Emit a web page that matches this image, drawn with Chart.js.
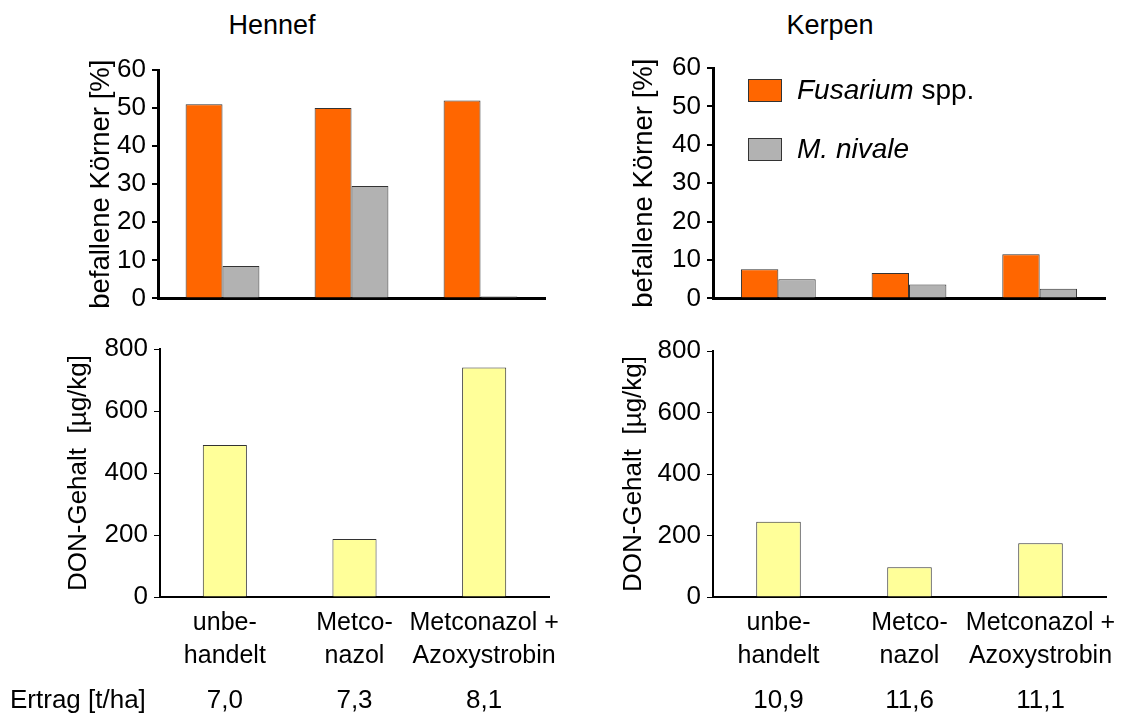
<!DOCTYPE html>
<html>
<head>
<meta charset="utf-8">
<script src="https://cdn.jsdelivr.net/npm/chart.js"></script>
<style>
  body { margin: 0; background: #fff; width: 1127px; height: 713px; position: relative; overflow: hidden; font-family: "Liberation Sans", Arial, sans-serif; }
  .box { position: absolute; }
  .site { position: absolute; font-size: 27px; color: #000; transform: translateX(-50%); white-space: nowrap; }
</style>
</head>
<body>
<div class="site" style="left:272px; top:10px;">Hennef</div>
<div class="site" style="left:830px; top:10px;">Kerpen</div>

<div class="box" style="left:60px; top:40px; width:500px; height:280px;"><canvas id="befallHennef"></canvas></div>
<div class="box" style="left:600px; top:40px; width:520px; height:280px;"><canvas id="befallKerpen"></canvas></div>
<div class="box" style="left:0px; top:325px; width:570px; height:388px;"><canvas id="donHennef"></canvas></div>
<div class="box" style="left:580px; top:325px; width:547px; height:388px;"><canvas id="donKerpen"></canvas></div>

<script>
// Data
const categories = [['unbe-', 'handelt'], ['Metco-', 'nazol'], ['Metconazol +', 'Azoxystrobin']];
const fusariumHennef = [51, 50, 52];
const nivaleHennef = [8.5, 29.5, 0.5];
const fusariumKerpen = [7.6, 6.6, 11.5];
const nivaleKerpen = [5.0, 3.6, 2.5];
const donHennef = [490, 187, 740];
const donKerpen = [245, 97, 175];
const ertragHennef = ['7,0', '7,3', '8,1'];
const ertragKerpen = ['10,9', '11,6', '11,1'];
const befallMax = 60, befallStep = 10;
const donMax = 800, donStep = 200;

const FONT = '"Liberation Sans", Arial, sans-serif';
const ORANGE = '#FF6600';
const GREY = '#B2B2B2';
const YELLOW = '#FFFF99';

// legend drawn inside the Kerpen chart (mixed italic text)
const legendPlugin = {
  id: 'speciesLegend',
  afterDraw(chart) {
    const ctx = chart.ctx;
    const a = chart.chartArea;
    const items = [
      { color: ORANGE, italic: 'Fusarium', plain: ' spp.', dy: 11 },
      { color: GREY, italic: 'M. nivale', plain: '', dy: 70 }
    ];
    ctx.save();
    items.forEach(it => {
      const x = a.left + 35, y = a.top + it.dy;
      ctx.fillStyle = it.color;
      ctx.fillRect(x, y, 34, 23);
      ctx.strokeStyle = '#333';
      ctx.lineWidth = 1;
      ctx.strokeRect(x + 0.5, y + 0.5, 33, 22);
      ctx.fillStyle = '#000';
      ctx.textBaseline = 'middle';
      ctx.textAlign = 'left';
      ctx.font = 'italic 28px ' + FONT;
      ctx.fillText(it.italic, x + 49, y + 12);
      const w = ctx.measureText(it.italic).width;
      ctx.font = '28px ' + FONT;
      ctx.fillText(it.plain, x + 49 + w, y + 12);
    });
    ctx.restore();
  }
};

// yield row under the bottom charts
function ertragPlugin(values, withLabel) {
  return {
    id: 'ertrag',
    afterDraw(chart) {
      const ctx = chart.ctx;
      const xs = chart.scales.x;
      ctx.save();
      ctx.fillStyle = '#000';
      ctx.font = '26px ' + FONT;
      ctx.textBaseline = 'middle';
      ctx.textAlign = 'center';
      values.forEach((v, i) => ctx.fillText(v, xs.getPixelForValue(i), 376));
      if (withLabel) {
        ctx.textAlign = 'left';
        ctx.fillText('Ertrag [t/ha]', 10, 376);
      }
      ctx.restore();
    }
  };
}

function makeChart(id, datasets, o) {
  return new Chart(document.getElementById(id), {
    type: 'bar',
    data: { labels: categories, datasets: datasets },
    options: {
      responsive: true,
      maintainAspectRatio: false,
      animation: false,
      layout: { padding: o.padding },
      plugins: { legend: { display: false }, tooltip: { enabled: false } },
      scales: {
        x: {
          grid: { display: false },
          border: { color: '#000', width: o.axisWidth },
          ticks: {
            display: o.showLabels, color: '#000', padding: 2,
            maxRotation: 0, minRotation: 0, autoSkip: false,
            font: { family: FONT, size: 25, lineHeight: 1.32 }
          },
          afterFit: s => { s.height = o.xHeight; }
        },
        y: {
          min: 0, max: o.max,
          ticks: { stepSize: o.step, color: '#000', padding: 6, font: { family: FONT, size: 26 } },
          grid: { drawOnChartArea: false, drawTicks: true, tickLength: 6, color: '#000', lineWidth: o.axisWidth - 1 },
          border: { color: '#000', width: o.axisWidth },
          title: { display: true, text: o.title, color: '#000', padding: 0, font: { family: FONT, size: o.titleSize } },
          afterFit: s => { s.width = o.yWidth; }
        }
      }
    },
    plugins: o.plugins || []
  });
}

function befallSets(fus, niv) {
  const common = { borderColor: '#333', borderWidth: 1, categoryPercentage: 0.572, barPercentage: 1 };
  return [
    Object.assign({ label: 'Fusarium spp.', data: fus, backgroundColor: ORANGE }, common),
    Object.assign({ label: 'M. nivale', data: niv, backgroundColor: GREY }, common)
  ];
}

function donSet(values) {
  return [{ label: 'DON', data: values, backgroundColor: YELLOW, borderColor: '#333', borderWidth: 1, categoryPercentage: 0.34, barPercentage: 1 }];
}

makeChart('befallHennef', befallSets(fusariumHennef, nivaleHennef), {
  padding: { left: 25, top: 30, right: 15, bottom: 16 }, yWidth: 73, xHeight: 0,
  max: befallMax, step: befallStep, axisWidth: 3, showLabels: false,
  title: 'befallene Körner [%]', titleSize: 27.5
});

makeChart('befallKerpen', befallSets(fusariumKerpen, nivaleKerpen), {
  padding: { left: 28, top: 28, right: 15, bottom: 17 }, yWidth: 85, xHeight: 0,
  max: befallMax, step: befallStep, axisWidth: 3, showLabels: false,
  title: 'befallene Körner [%]', titleSize: 27.5,
  plugins: [legendPlugin]
});

makeChart('donHennef', donSet(donHennef), {
  padding: { left: 63, top: 24, right: 21, bottom: 0 }, yWidth: 97, xHeight: 116,
  max: donMax, step: donStep, axisWidth: 2, showLabels: true,
  title: 'DON-Gehalt  [µg/kg]', titleSize: 26,
  plugins: [ertragPlugin(ertragHennef, true)]
});

makeChart('donKerpen', donSet(donKerpen), {
  padding: { left: 38, top: 26, right: 21, bottom: 0 }, yWidth: 95, xHeight: 116,
  max: donMax, step: donStep, axisWidth: 2, showLabels: true,
  title: 'DON-Gehalt  [µg/kg]', titleSize: 26,
  plugins: [ertragPlugin(ertragKerpen, false)]
});
</script>
</body>
</html>
